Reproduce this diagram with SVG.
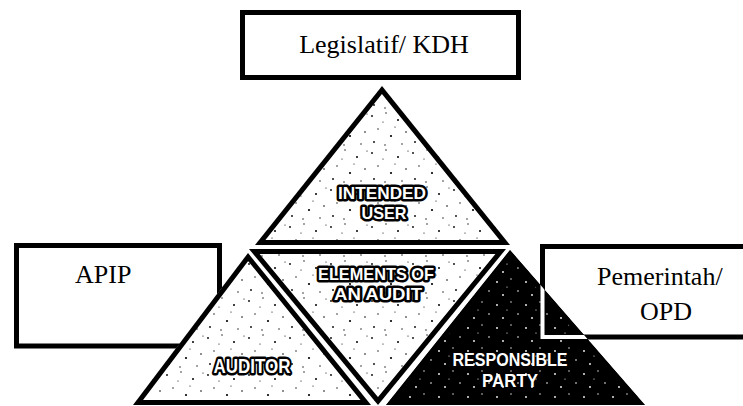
<svg xmlns="http://www.w3.org/2000/svg" width="743" height="406" viewBox="0 0 743 406">
<style>
.box{fill:#fff;stroke:#000;stroke-width:5}
.lbl{font-family:"Liberation Serif","Times New Roman",serif;font-size:26px;fill:#000}
.tri{stroke:#000;stroke-width:10;stroke-linejoin:miter}
.wt{font-family:"Liberation Sans",Arial,sans-serif;font-weight:bold;fill:#fff;stroke:#000;stroke-width:5;stroke-linejoin:round;paint-order:stroke;text-anchor:middle}
.wt2{font-family:"Liberation Sans",Arial,sans-serif;font-weight:bold;fill:#fff;text-anchor:middle}
</style>
<defs>
<pattern id="spk" width="41" height="37" patternUnits="userSpaceOnUse">
<rect width="41" height="37" fill="#fff"/>
<g fill="#000">
<circle cx="3" cy="5" r="0.9"/><circle cx="17" cy="2" r="0.7"/><circle cx="29" cy="9" r="1"/>
<circle cx="37" cy="21" r="0.8"/><circle cx="9" cy="18" r="0.7"/><circle cx="22" cy="25" r="1.1"/>
<circle cx="33" cy="33" r="0.7"/><circle cx="5" cy="31" r="0.9"/><circle cx="14" cy="11" r="0.6"/>
<circle cx="26" cy="16" r="0.6"/><circle cx="39" cy="3" r="0.6"/><circle cx="16" cy="34" r="0.7"/>
</g>
</pattern>
<pattern id="wspk" width="29" height="23" patternUnits="userSpaceOnUse">
<rect width="29" height="23" fill="#000"/>
<g fill="#fff">
<circle cx="4" cy="6" r="0.9"/><circle cx="18" cy="3" r="0.7"/><circle cx="25" cy="15" r="0.8"/>
<circle cx="10" cy="19" r="0.9"/><circle cx="14" cy="11" r="0.6"/>
</g>
</pattern>
<clipPath id="cTop"><polygon points="382,86 255,245 510,245"/></clipPath>
<clipPath id="cMid"><polygon points="249,249 506,249 378,405"/></clipPath>
<clipPath id="cLeft"><polygon points="248,253 133,405 371,405"/></clipPath>
<clipPath id="cRight"><polygon points="510,250 386,405 645,405"/></clipPath>
</defs>

<g id="legislatif">
<rect class="box" x="242.5" y="12.5" width="276" height="65" stroke-width="4.5"/>
<text class="lbl" x="384" y="53" text-anchor="middle">Legislatif/ KDH</text>
</g>

<g id="apip">
<rect class="box" x="16.5" y="245.5" width="203" height="100.5"/>
<text class="lbl" x="75" y="283">APIP</text>
</g>

<g id="pemerintah">
<rect class="box" x="542.5" y="246.5" width="220" height="90.5"/>
<text class="lbl" x="597" y="285" font-size="25">Pemerintah/</text>
<text class="lbl" x="640" y="320" font-size="25">OPD</text>
</g>

<g id="intended-user">
<polygon class="tri" points="382,86 255,245 510,245" fill="url(#spk)" clip-path="url(#cTop)"/>
<text class="wt" x="382" y="199" font-size="17" textLength="88" lengthAdjust="spacingAndGlyphs">INTENDED</text>
<text class="wt" x="384" y="219" font-size="17" textLength="45" lengthAdjust="spacingAndGlyphs">USER</text>
</g>

<g id="elements">
<polygon class="tri" points="249,249 506,249 378,405" fill="url(#spk)" clip-path="url(#cMid)"/>
<text class="wt" x="376" y="280" font-size="17" textLength="116" lengthAdjust="spacingAndGlyphs">ELEMENTS OF</text>
<text class="wt" x="378" y="300" font-size="17" textLength="88" lengthAdjust="spacingAndGlyphs">AN AUDIT</text>
</g>

<g id="auditor">
<polygon class="tri" points="248,253 133,405 371,405" fill="url(#spk)" clip-path="url(#cLeft)"/>
<text class="wt" x="252" y="373" font-size="21" textLength="77" lengthAdjust="spacingAndGlyphs">AUDITOR</text>
</g>

<g id="responsible-party">
<polygon class="tri" points="510,250 386,405 645,405" fill="url(#wspk)" clip-path="url(#cRight)"/>
<rect x="542.5" y="246.5" width="220" height="90.5" fill="none" stroke="#fff" stroke-width="4" clip-path="url(#cRight)"/>
<text class="wt2" x="510" y="366" font-size="18.5" textLength="115" lengthAdjust="spacingAndGlyphs">RESPONSIBLE</text>
<text class="wt2" x="510" y="387" font-size="18.5" textLength="56" lengthAdjust="spacingAndGlyphs">PARTY</text>
</g>

<g id="connectors"></g>
</svg>
